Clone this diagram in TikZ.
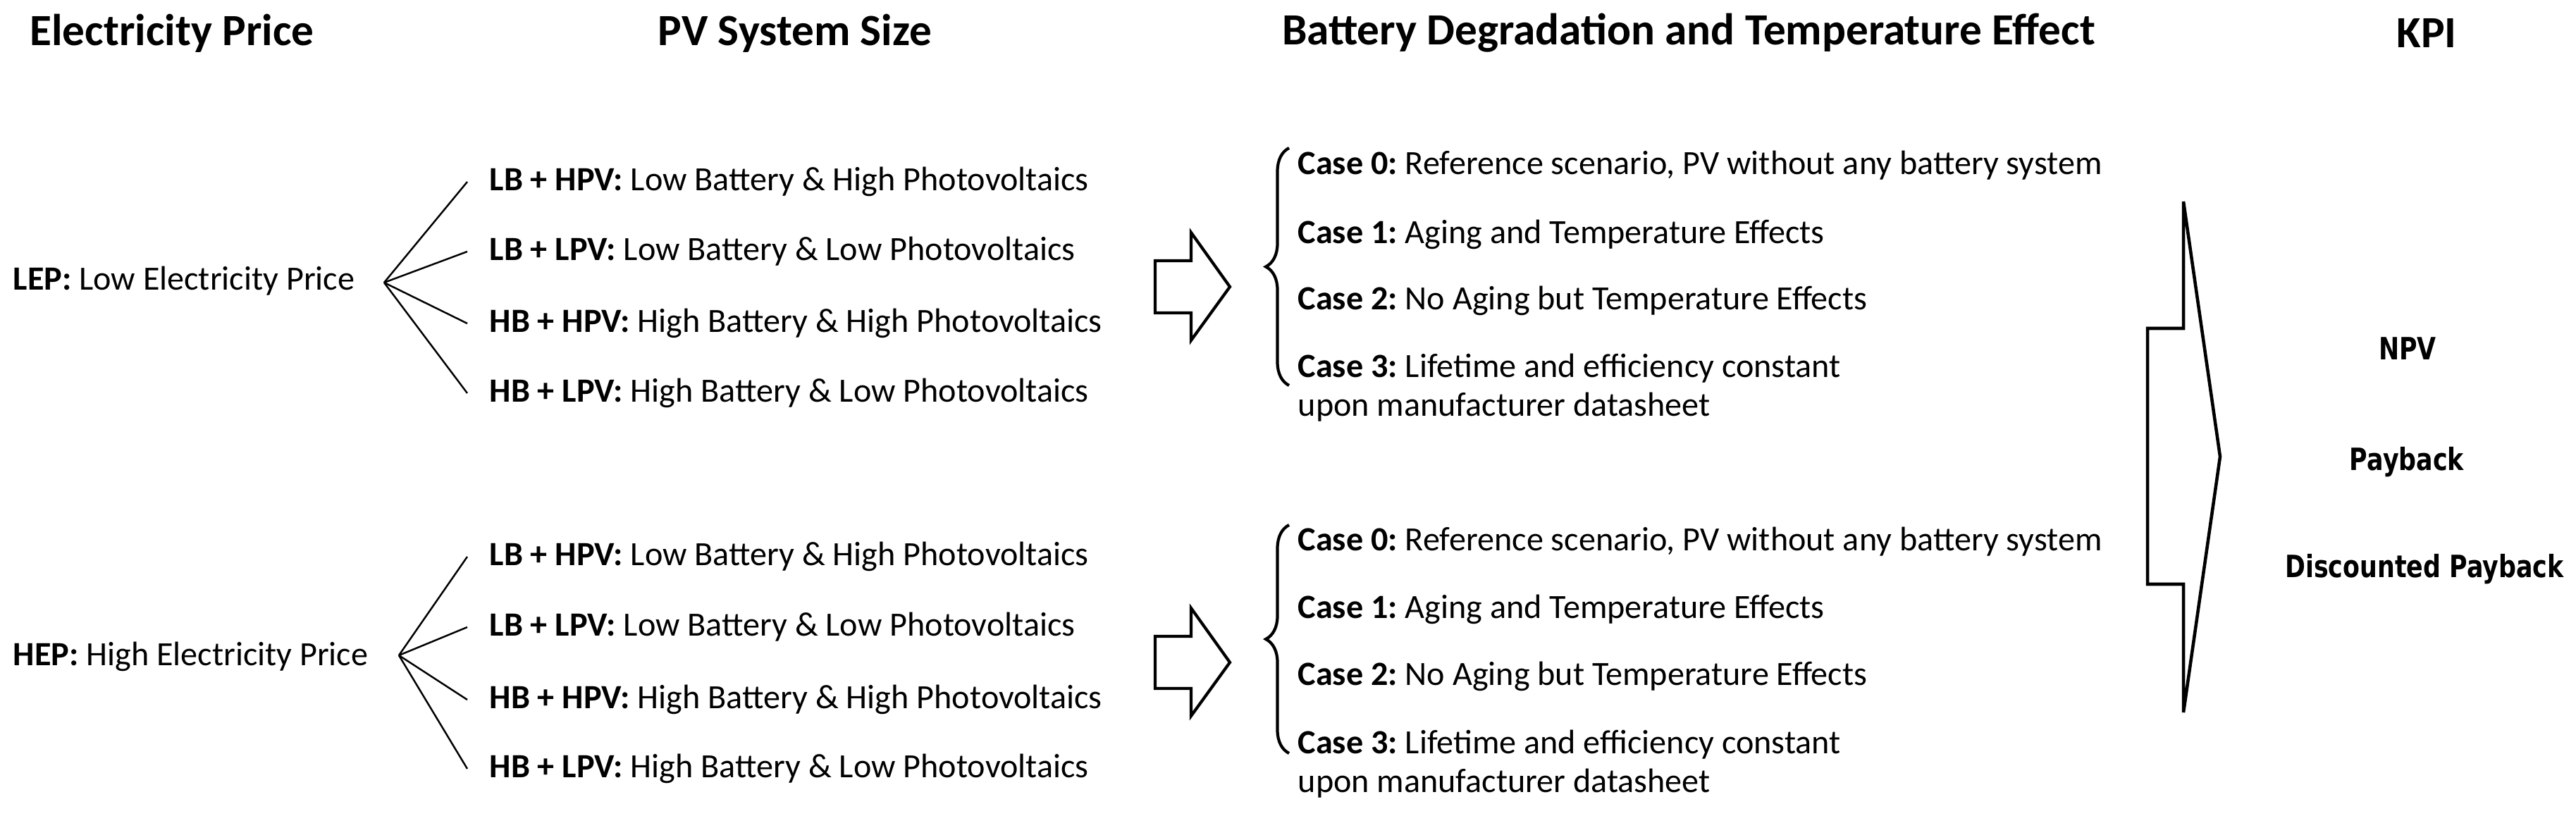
\documentclass[tikz,border=0pt]{standalone}
\usepackage{fontspec}
\setmainfont{Carlito}
\newfontfamily\kpifont[FakeStretch=0.8]{DejaVu Sans}
\usetikzlibrary{decorations.pathreplacing}
\frenchspacing

\begin{document}
\begin{tikzpicture}[
  every node/.style={inner sep=0pt, font=\fontsize{13.7}{15.6}\selectfont},
  title/.style={font=\fontsize{18}{21}\selectfont\bfseries},
  size/.style={anchor=west, inner xsep=0.31cm},
  case/.style={anchor=west, align=left},
  kpi/.style={font=\kpifont\fontsize{12.4}{14}\selectfont\bfseries},
  branch/.style={-, line width=0.7pt, draw=black},
  block/.style={draw=black, line width=1.2pt, line join=miter},
  curly/.style={decorate, decoration={brace, amplitude=0.33cm}, line width=1.2pt}]
\useasboundingbox (0,0) rectangle (36.55,11.57);
% column titles
\node[title] (T1) at (2.44, 11.10) {Electricity Price};
\node[title] (T2) at (11.28, 11.10) {PV System Size};
\node[title] (T3) at (23.96, 11.10) {Battery Degradation and Temperature Effect};
\node[title] (T4) at (34.43, 11.10) {KPI};
% electricity price
\node[anchor=west] (P1) at (0.18, 7.58) {\textbf{LEP:} Low Electricity Price};
\node[anchor=west] (P2) at (0.18, 2.25) {\textbf{HEP:} High Electricity Price};
\coordinate (F1) at (5.45, 7.56);
\coordinate (F2) at (5.66, 2.27);
% pv system size
\node[size] (S11) at (6.63, 8.99) {\textbf{LB + HPV:} Low Battery \& High Photovoltaics};
\node[size] (S12) at (6.63, 8.00) {\textbf{LB + LPV:} Low Battery \& Low Photovoltaics};
\node[size] (S13) at (6.63, 6.98) {\textbf{HB + HPV:} High Battery \& High Photovoltaics};
\node[size] (S14) at (6.63, 5.99) {\textbf{HB + LPV:} High Battery \& Low Photovoltaics};
\node[size] (S21) at (6.63, 3.67) {\textbf{LB + HPV:} Low Battery \& High Photovoltaics};
\node[size] (S22) at (6.63, 2.67) {\textbf{LB + LPV:} Low Battery \& Low Photovoltaics};
\node[size] (S23) at (6.63, 1.64) {\textbf{HB + HPV:} High Battery \& High Photovoltaics};
\node[size] (S24) at (6.63, 0.66) {\textbf{HB + LPV:} High Battery \& Low Photovoltaics};
\path [branch] (F1) edge (S11.west);
\path [branch] (F1) edge (S12.west);
\path [branch] (F1) edge (S13.west);
\path [branch] (F1) edge (S14.west);
\path [branch] (F2) edge (S21.west);
\path [branch] (F2) edge (S22.west);
\path [branch] (F2) edge (S23.west);
\path [branch] (F2) edge (S24.west);
% block arrows
\draw[block] (16.39, 7.87) -- (16.90, 7.87) -- (16.90, 8.27) -- (17.45, 7.50) -- (16.90, 6.74) -- (16.90, 7.13) -- (16.39, 7.13) -- cycle;
\draw[block] (16.39, 2.54) -- (16.90, 2.54) -- (16.90, 2.94) -- (17.45, 2.17) -- (16.90, 1.41) -- (16.90, 1.80) -- (16.39, 1.80) -- cycle;
% cases
\node[case] (C10) at (18.41, 9.22) {\textbf{Case 0:} Reference scenario, PV without any battery system};
\node[case] (C11) at (18.41, 8.24) {\textbf{Case 1:} Aging and Temperature Effects};
\node[case] (C12) at (18.41, 7.30) {\textbf{Case 2:} No Aging but Temperature Effects};
\node[case] (C13) at (18.41, 6.07) {\textbf{Case 3:} Lifetime and efficiency constant\\upon manufacturer datasheet};
\node[case] (C20) at (18.41, 3.88) {\textbf{Case 0:} Reference scenario, PV without any battery system};
\node[case] (C21) at (18.41, 2.92) {\textbf{Case 1:} Aging and Temperature Effects};
\node[case] (C22) at (18.41, 1.97) {\textbf{Case 2:} No Aging but Temperature Effects};
\node[case] (C23) at (18.41, 0.73) {\textbf{Case 3:} Lifetime and efficiency constant\\upon manufacturer datasheet};
\draw[curly] (18.29, 6.10) -- (18.29, 9.47);
\draw[curly] (18.29, 0.88) -- (18.29, 4.12);
% kpi
\draw[block, line width=1.3pt] (30.47, 6.91) -- (30.98, 6.91) -- (30.98, 8.71) -- (31.50, 5.09) -- (30.98, 1.46) -- (30.98, 3.28) -- (30.47, 3.28) -- cycle;
\node[kpi] (K1) at (34.16, 6.62) {NPV};
\node[kpi] (K2) at (34.15, 5.01) {Payback};
\node[kpi] (K3) at (34.40, 3.49) {Discounted Payback};
\end{tikzpicture}
\end{document}
